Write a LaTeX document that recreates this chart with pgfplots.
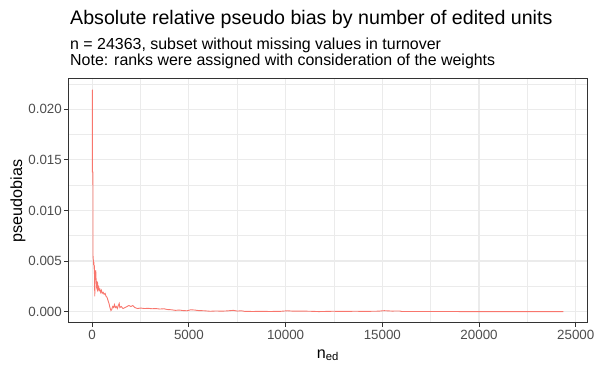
\documentclass[border=0pt]{standalone}
\usepackage{fontspec}
\setmainfont{Liberation Sans}
\usepackage{pgfplots}
\pgfplotsset{compat=1.18}

\definecolor{ggred}{HTML}{F8766D}
\definecolor{gridgrey}{HTML}{EBEBEB}
\definecolor{bordergrey}{HTML}{333333}
\definecolor{ticklab}{HTML}{4D4D4D}

\pgfplotstableread{
x y
1 0.0219
10 0.0219
12 0.0138
40 0.0138
45 0.0055
60 0.0051
75 0.0046
90 0.0049
100 0.0042
110 0.0046
125 0.0030
135 0.0015
145 0.0034
155 0.0040
170 0.0036
185 0.0041
200 0.0033
215 0.0030
230 0.0025
250 0.0027
270 0.0023
290 0.0026
310 0.0022
340 0.0024
370 0.0021
400 0.0022
440 0.0019
480 0.0021
520 0.0018
570 0.0019
620 0.0017
670 0.0018
720 0.0015
770 0.0014
820 0.0011
870 0.0008
920 0.0004
970 0.0001
1010 0.0002
1060 0.0005
1110 0.0004
1150 0.0007
1200 0.0004
1250 0.0005
1300 0.0003
1350 0.0006
1400 0.0008
1430 0.0004
1500 0.0005
1600 0.0003
1700 0.0004
1800 0.0005
1900 0.0006
2000 0.0005
2100 0.0006
2200 0.0004
2350 0.0003
2500 0.00035
2700 0.0003
2900 0.00032
3100 0.00028
3300 0.0003
3500 0.00025
3700 0.00028
3900 0.0002
4100 0.00018
4300 0.00012
4500 0.00015
4700 0.0001
4900 0.00008
5100 0.00018
5300 0.00015
5500 0.0001
5800 0.00008
6100 0.00003
6400 0.00006
6700 0.00004
7000 0.00007
7300 0.00012
7500 0.00005
7700 0.00008
7900 0.00002
8300 0.00001
8700 0.00002
9200 0.00001
9700 0.00002
10100 0.00008
10400 0.00004
10800 0.00005
11300 0.00003
11700 0.00000
12000 0.00001
12400 0.00003
13000 0.00002
13600 0.00003
14200 0.00002
14800 0.00004
15100 0.00009
15500 0.00005
15900 0.00006
16000 0.00001
20000 0.00000
24363 0.00000
}\biasdata

\begin{document}
\begin{tikzpicture}
\useasboundingbox (0,0) rectangle (595bp,372bp);
% titles, set the way ggplot put them
\node[anchor=base west, inner sep=0, font=\fontsize{19.7}{22}\selectfont] at (70bp,347bp)
  {Absolute relative pseudo bias by number of edited units};
\node[anchor=base west, inner sep=0, font=\fontsize{16}{18}\selectfont] at (70bp,322bp)
  {n = 24363, subset without missing values in turnover};
\node[anchor=base west, inner sep=0, font=\fontsize{16}{18}\selectfont] at (70bp,306bp)
  {Note: ranks were assigned with consideration of the weights};
\begin{axis}[
  at={(68.6bp,49.3bp)}, anchor=south west,
  scale only axis,
  width=518.4bp, height=243.7bp,
  xmin=-1218, xmax=25581,
  ymin=-0.0011, ymax=0.0230,
  xtick={0,5000,10000,15000,20000,25000},
  ytick={0,0.005,0.010,0.015,0.020},
  minor xtick={2500,7500,12500,17500,22500},
  minor ytick={0.0025,0.0075,0.0125,0.0175,0.0225},
  grid=both,
  major grid style={gridgrey, line width=1.2bp},
  minor grid style={gridgrey, line width=0.7bp},
  axis line style={bordergrey, line width=1bp},
  tick align=outside, tick pos=left,
  major tick length=4.2bp, minor tick length=0pt,
  major tick style={bordergrey, line width=1bp},
  scaled x ticks=false, scaled y ticks=false,
  xticklabel style={/pgf/number format/set thousands separator={}, inner sep=0pt, anchor=north, yshift=-3bp},
  yticklabel style={/pgf/number format/fixed, /pgf/number format/fixed zerofill,
    /pgf/number format/precision=3, inner sep=0pt, anchor=east, xshift=-2.4bp},
  /pgf/number format/assume math mode=true,
  tick label style={font=\fontsize{13.4}{15}\selectfont, text=ticklab},
  every axis x label/.style={at={(axis description cs:0.5,-0.1449)}, anchor=base,
    font=\fontsize{16.2}{18}\selectfont},
  every axis y label/.style={at={(axis description cs:-0.0976,0.5)}, rotate=90, anchor=center,
    font=\fontsize{16.2}{18}\selectfont},
  xlabel={n\textsubscript{ed}},
  ylabel={pseudobias},
]
\addplot[ggred, line width=0.9bp] table[x=x, y=y] {\biasdata};
\end{axis}
\end{tikzpicture}
\end{document}
